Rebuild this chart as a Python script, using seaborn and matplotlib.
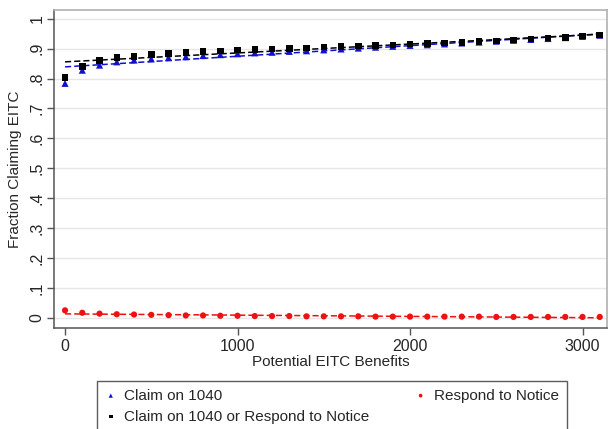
import numpy as np
import pandas as pd
import matplotlib
matplotlib.use("Agg")
import matplotlib.pyplot as plt
import seaborn as sns

# Potential EITC benefit bins (dollars)
benefits = list(range(0, 3200, 100))

# Share claiming on the 1040
claim_1040 = [0.784, 0.828, 0.845, 0.856, 0.862, 0.866, 0.870, 0.873, 0.877, 0.880,
              0.883, 0.886, 0.888, 0.891, 0.893, 0.896, 0.899, 0.902, 0.905, 0.908,
              0.911, 0.913, 0.916, 0.919, 0.922, 0.925, 0.928, 0.931, 0.934, 0.937,
              0.941, 0.945]

# Share claiming on the 1040 or responding to the notice
claim_or_respond = [0.804, 0.840, 0.860, 0.870, 0.873, 0.881, 0.884, 0.888, 0.890, 0.893,
                    0.895, 0.897, 0.899, 0.901, 0.903, 0.905, 0.907, 0.909, 0.911, 0.913,
                    0.915, 0.917, 0.919, 0.921, 0.924, 0.926, 0.929, 0.932, 0.935, 0.938,
                    0.942, 0.946]

# Share responding to the notice
respond_notice = [0.025, 0.017, 0.014, 0.012, 0.011, 0.010, 0.009, 0.008, 0.008, 0.007,
                  0.007, 0.006, 0.006, 0.006, 0.005, 0.005, 0.005, 0.005, 0.004, 0.004,
                  0.004, 0.004, 0.004, 0.004, 0.004, 0.003, 0.003, 0.003, 0.003, 0.003,
                  0.003, 0.003]

y_ticks = [0, 0.1, 0.2, 0.3, 0.4, 0.5, 0.6, 0.7, 0.8, 0.9, 1.0]
y_tick_labels = ["0", ".1", ".2", ".3", ".4", ".5", ".6", ".7", ".8", ".9", "1"]
x_ticks = [0, 1000, 2000, 3000]

df = pd.DataFrame({
    "benefits": benefits,
    "claim_1040": claim_1040,
    "claim_or_respond": claim_or_respond,
    "respond_notice": respond_notice,
})

sns.set_theme(style="white")
plt.rcParams["font.family"] = ["Liberation Sans", "DejaVu Sans"]

W, H = 609, 429
fig = plt.figure(figsize=(W / 100, H / 100), dpi=100)
ax = fig.add_axes([54 / W, 1 - 328 / H, (607 - 54) / W, (328 - 9.5) / H])

series = [
    ("claim_1040", "Claim on 1040", "#1010d0", "^", 26),
    ("respond_notice", "Respond to Notice", "#ee1111", "o", 20),
    ("claim_or_respond", "Claim on 1040 or Respond to Notice", "#000000", "s", 22),
]

for col, label, color, marker, size in series:
    sns.regplot(data=df, x="benefits", y=col, ax=ax, ci=None, scatter=False,
                color=color, line_kws=dict(ls=(0, (4, 2)), lw=1.1, zorder=3))

handles = {}
for col, label, color, marker, size in series:
    h = ax.scatter(df["benefits"], df[col], marker=marker, s=size, color=color,
                   edgecolor="none", zorder=4, label=label)
    handles[col] = h

ax.set_xlim(-64, 3142)
ax.set_ylim(-0.034, 1.031)
ax.set_yticks(y_ticks)
ax.set_yticklabels(y_tick_labels)
ax.set_xticks(x_ticks)
ax.set_xticklabels([str(v) for v in x_ticks])
ax.tick_params(axis="y", labelrotation=90, labelsize=11.5, length=5, width=1,
               color="#555555", left=True, pad=2)
ax.tick_params(axis="x", labelsize=11.5, length=5, width=1, color="#555555",
               bottom=True, pad=3)
for lab in ax.get_yticklabels():
    lab.set_va("center")

ax.grid(axis="y", color="#e6e6e6", lw=1)
ax.set_axisbelow(True)
for side in ["left", "bottom"]:
    ax.spines[side].set_color("#555555")
    ax.spines[side].set_linewidth(1.1)
for side in ["top", "right"]:
    ax.spines[side].set_color("#b0b0b0")
    ax.spines[side].set_linewidth(1.2)

ax.set_xlabel("Potential EITC Benefits", fontsize=11, labelpad=1)
ax.set_ylabel("Fraction Claiming EITC", fontsize=11, labelpad=5)

leg = fig.legend(
    [handles["claim_1040"], handles["claim_or_respond"], handles["respond_notice"]],
    ["Claim on 1040", "Claim on 1040 or Respond to Notice", "Respond to Notice"],
    ncol=2, loc="upper left",
    bbox_to_anchor=(97 / W, 1 - 381 / H, (567 - 97) / W, 0.0), mode="expand",
    borderaxespad=0.0,
    frameon=True, fancybox=False, fontsize=11, markerscale=0.6,
    handletextpad=0.5, handlelength=0.8, borderpad=0.5, labelspacing=0.45,
    columnspacing=2.0,
)
leg.get_frame().set_edgecolor("#333333")
leg.get_frame().set_linewidth(1.0)

fig.savefig("out.png", dpi=100)
